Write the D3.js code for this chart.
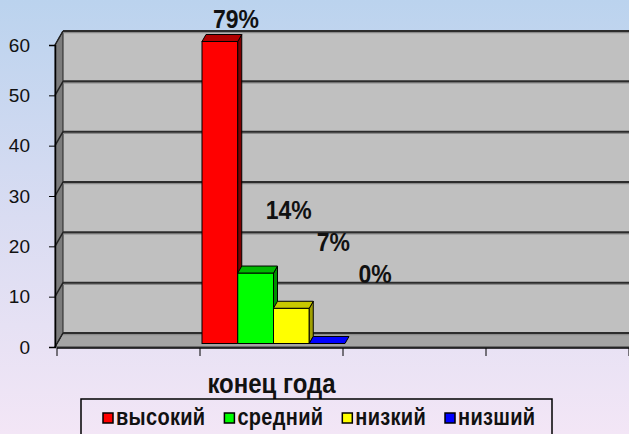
<!DOCTYPE html>
<html>
  <head>
    <meta charset="utf-8">
    <title>конец года</title>
    <script src="https://d3js.org/d3.v7.min.js"></script>
    <style>
      body { margin: 0; }
      text { font-family: "Liberation Sans", Arial, sans-serif; }
    </style>
  </head>
  <body>
    <svg width="629" height="434" id="mainsvg"></svg>
    <script>
        // data
        const categories = ['', 'конец года', '', ''];
        const seriesNames = ['высокий', 'средний', 'низкий', 'низший'];
        const seriesValues = [60, 14, 7, 0];
        const percentLabels = ['79%', '14%', '7%', '0%'];
        const yTicks = [0, 10, 20, 30, 40, 50, 60];

        const colors = ['#ff0000', '#00ff00', '#ffff00', '#0000ff'];
        const topColors = ['#b00000', '#00b800', '#c8c800', '#0000b8'];
        const sideColors = ['#800000', '#009000', '#a0a000', '#000090'];

        const svg = d3.select('#mainsvg');
        const width = +svg.attr('width');
        const height = +svg.attr('height');

        // background gradient
        const defs = svg.append('defs');
        const grad = defs.append('linearGradient').attr('id', 'bg')
          .attr('x1', 0).attr('y1', 0).attr('x2', 0).attr('y2', 1);
        grad.append('stop').attr('offset', '0%').attr('stop-color', '#bbd3ee');
        grad.append('stop').attr('offset', '50%').attr('stop-color', '#d9dcf2');
        grad.append('stop').attr('offset', '100%').attr('stop-color', '#f3e6f6');
        svg.append('rect').attr('width', width).attr('height', height).attr('fill', 'url(#bg)');

        // 3d depth of the plot
        const depthX = 8, depthY = -14;
        const plotLeft = 55, plotRight = 629 + 20, plotBottom = 347, plotTop = 45;

        const yScale = d3.scaleLinear().domain([0, 60]).range([plotBottom, plotTop]);
        const xScale = d3.scaleBand().domain(d3.range(categories.length))
          .range([57, 629]).padding(0);
        const sScale = d3.scaleBand().domain(d3.range(seriesNames.length))
          .range([0, xScale.bandwidth()]).padding(0);

        const g = svg.append('g');

        // back wall
        g.append('rect')
          .attr('x', plotLeft + depthX).attr('y', yScale(60) + depthY)
          .attr('width', plotRight - plotLeft).attr('height', yScale(0) - yScale(60))
          .attr('fill', '#c0c0c0');
        // floor
        g.append('path')
          .attr('d', `M${plotLeft},${plotBottom} L${plotRight},${plotBottom} L${plotRight + depthX},${plotBottom + depthY} L${plotLeft + depthX},${plotBottom + depthY} Z`)
          .attr('fill', '#a4a4a4').attr('stroke', '#333').attr('stroke-width', 1);
        // side wall
        g.append('path')
          .attr('d', `M${plotLeft},${plotBottom} L${plotLeft},${plotTop} L${plotLeft + depthX},${plotTop + depthY} L${plotLeft + depthX},${plotBottom + depthY} Z`)
          .attr('fill', '#7c7c7c').attr('stroke', '#222').attr('stroke-width', 1);

        // gridlines on walls
        yTicks.forEach(t => {
          const y = yScale(t);
          g.append('line')
            .attr('x1', plotLeft + depthX).attr('x2', plotRight)
            .attr('y1', y + depthY + 1.5).attr('y2', y + depthY + 1.5)
            .attr('stroke', '#8a8a8a').attr('stroke-width', 1.5);
          g.append('line')
            .attr('x1', plotLeft + depthX).attr('x2', plotRight)
            .attr('y1', y + depthY).attr('y2', y + depthY)
            .attr('stroke', '#2c2c2c').attr('stroke-width', 2);
          g.append('line')
            .attr('x1', plotLeft).attr('x2', plotLeft + depthX)
            .attr('y1', y).attr('y2', y + depthY)
            .attr('stroke', '#222').attr('stroke-width', 1.5);
        });

        // bars
        const d0 = 0.25, d1 = 0.75;
        const fx = depthX * d0, fy = depthY * d0;
        const bx = depthX * d1, by = depthY * d1;
        const bars = g.selectAll('.bar').data(seriesValues).join('g').attr('class', 'bar');
        bars.each(function(v, i) {
          const sel = d3.select(this);
          const x0 = xScale(1) + sScale(i) + fx;
          const x1 = x0 + sScale.bandwidth();
          const y0 = yScale(0) + fy;
          const y1 = yScale(v) + fy;
          const ddx = bx - fx, ddy = by - fy;
          if (v > 0) {
            sel.append('rect')
              .attr('x', x0).attr('y', y1).attr('width', x1 - x0).attr('height', y0 - y1)
              .attr('fill', colors[i]).attr('stroke', '#000').attr('stroke-width', 1);
            sel.append('path')
              .attr('d', `M${x1},${y0} L${x1},${y1} L${x1 + ddx},${y1 + ddy} L${x1 + ddx},${y0 + ddy} Z`)
              .attr('fill', sideColors[i]).attr('stroke', '#000').attr('stroke-width', 1);
          }
          sel.append('path')
            .attr('d', `M${x0},${y1} L${x1},${y1} L${x1 + ddx},${y1 + ddy} L${x0 + ddx},${y1 + ddy} Z`)
            .attr('fill', v > 0 ? topColors[i] : colors[i]).attr('stroke', '#000').attr('stroke-width', 1);
        });

        // percent labels (placed by hand like the original)
        const labelShift = [[16, -14], [33, -54], [42, -57], [48, -61]];
        g.selectAll('.pct').data(percentLabels).join('text')
          .attr('class', 'pct')
          .attr('transform', (d, i) => {
            const x = xScale(1) + sScale(i) + fx + sScale.bandwidth() / 2 + labelShift[i][0];
            const y = yScale(seriesValues[i]) + fy + labelShift[i][1];
            return `translate(${x},${y}) scale(1,1.1)`;
          })
          .attr('text-anchor', 'middle')
          .attr('font-size', 23).attr('font-weight', 'bold').attr('fill', '#111')
          .text(d => d);

        // y axis
        const yAxis = d3.axisLeft(yScale).tickValues(yTicks).tickSize(6).tickPadding(19);
        const ya = g.append('g').attr('transform', `translate(${plotLeft},0)`).call(yAxis);
        ya.select('.domain').attr('stroke', '#000').attr('stroke-width', 1.5);
        ya.selectAll('.tick line').attr('stroke', '#000');
        ya.selectAll('.tick text').attr('font-size', 19).attr('fill', '#111')
          .attr('font-family', '"Liberation Sans", Arial, sans-serif');

        // x axis
        const xLine = g.append('g').attr('transform', `translate(0,${plotBottom + 1})`);
        xLine.append('line').attr('x1', plotLeft + 2).attr('x2', width)
          .attr('stroke', '#000').attr('stroke-width', 1.5);
        const tickXs = d3.range(categories.length + 1).map(i => i < categories.length ? xScale(i) : xScale(i - 1) + xScale.bandwidth());
        xLine.selectAll('.xt').data(tickXs).join('line')
          .attr('x1', d => d).attr('x2', d => d).attr('y1', 0).attr('y2', 8)
          .attr('stroke', '#000').attr('stroke-width', 1);
        xLine.selectAll('.xl').data(categories).join('text')
          .attr('transform', (d, i) => `translate(${xScale(i) + xScale.bandwidth() / 2},45) scale(1,1.12)`)
          .attr('text-anchor', 'middle')
          .attr('font-size', 24).attr('font-weight', 'bold').attr('fill', '#111')
          .text(d => d);

        // legend
        const leg = svg.append('g');
        leg.append('rect').attr('x', 81).attr('y', 399).attr('width', 471).attr('height', 50)
          .attr('fill', 'none').attr('stroke', '#000').attr('stroke-width', 1.5);
        let lx = 103;
        seriesNames.forEach((name, i) => {
          leg.append('rect').attr('x', lx).attr('y', 413).attr('width', 10).attr('height', 10)
            .attr('fill', colors[i]).attr('stroke', '#000').attr('stroke-width', 1.5);
          const t = leg.append('text').attr('transform', `translate(${lx + 13},425) scale(1,1.15)`)
            .attr('font-size', 20).attr('font-weight', 'bold').attr('fill', '#111')
            .attr('letter-spacing', 0.3)
            .text(name);
          lx += 13 + t.node().getComputedTextLength() + 19;
        });
    </script>
  </body>
</html>
